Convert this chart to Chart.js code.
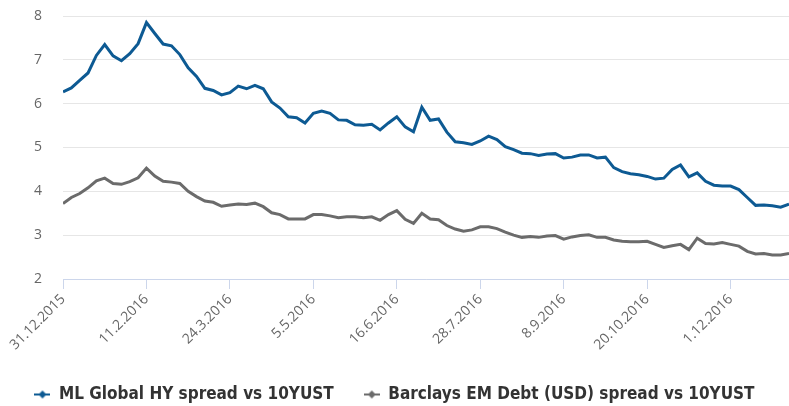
<!DOCTYPE html>
<html>
<head>
<meta charset="utf-8">
<script src="https://cdn.jsdelivr.net/npm/chart.js@4"></script>
<style>
  html, body { margin: 0; padding: 0; background: #fff; }
  #wrap { width: 789px; height: 406px; position: relative; }
</style>
</head>
<body>
<div id="wrap"><canvas id="chart"></canvas></div>
<script>
// tick labels every 30 business days (10 points apart)
const tickLabels = ["31.12.2015", "11.2.2016", "24.3.2016", "5.5.2016", "16.6.2016",
  "28.7.2016", "8.9.2016", "20.10.2016", "1.12.2016"];

const seriesNames = ["ML Global HY spread vs 10YUST", "Barclays EM Debt (USD) spread vs 10YUST"];

const hySpread = [
  6.27, 6.36, 6.53, 6.70, 7.10, 7.35, 7.09, 6.98, 7.14, 7.37,
  7.85, 7.60, 7.36, 7.32, 7.12, 6.82, 6.62, 6.35, 6.30, 6.20,
  6.25, 6.40, 6.34, 6.42, 6.34, 6.04, 5.90, 5.70, 5.68, 5.56,
  5.78, 5.83, 5.78, 5.63, 5.62, 5.52, 5.51, 5.53, 5.40, 5.56,
  5.70, 5.47, 5.36, 5.92, 5.62, 5.65, 5.35, 5.13, 5.11, 5.07,
  5.15, 5.26, 5.18, 5.02, 4.95, 4.87, 4.86, 4.82, 4.85, 4.86,
  4.76, 4.78, 4.83, 4.83, 4.76, 4.78, 4.54, 4.45, 4.40, 4.38,
  4.34, 4.28, 4.30, 4.50, 4.60, 4.33, 4.42, 4.23, 4.14, 4.12,
  4.12, 4.04, 3.86, 3.68, 3.69, 3.67, 3.64, 3.71
];

const emSpread = [
  3.72, 3.86, 3.95, 4.08, 4.24, 4.30, 4.18, 4.16, 4.22, 4.31,
  4.53, 4.35, 4.23, 4.21, 4.18, 4.00, 3.88, 3.78, 3.75, 3.66,
  3.69, 3.71, 3.70, 3.73, 3.65, 3.51, 3.47, 3.37, 3.37, 3.37,
  3.47, 3.47, 3.44, 3.40, 3.42, 3.42, 3.40, 3.42, 3.34, 3.47,
  3.56, 3.36, 3.27, 3.50, 3.37, 3.35, 3.22, 3.14, 3.09, 3.12,
  3.19, 3.19, 3.15, 3.07, 3.00, 2.95, 2.97, 2.95, 2.98, 2.99,
  2.91, 2.96, 2.99, 3.01, 2.95, 2.95, 2.89, 2.86, 2.85, 2.85,
  2.86, 2.79, 2.72, 2.76, 2.79, 2.67, 2.93, 2.81, 2.80, 2.83,
  2.79, 2.75, 2.63, 2.57, 2.58, 2.55, 2.55, 2.58
];

const colors = ["#0d5a93", "#6b6b6b"];

// legend symbol: short line with a diamond in the middle
function makeSymbol(color) {
  const c = document.createElement("canvas");
  c.width = 16;
  c.height = 10;
  const g = c.getContext("2d");
  g.strokeStyle = color;
  g.lineWidth = 2;
  g.beginPath();
  g.moveTo(0, 5);
  g.lineTo(16, 5);
  g.stroke();
  g.fillStyle = color;
  g.beginPath();
  g.moveTo(8, 1);
  g.lineTo(12, 5);
  g.lineTo(8, 9);
  g.lineTo(4, 5);
  g.closePath();
  g.fill();
  return c;
}

const symbols = colors.map(makeSymbol);

function toPoints(arr) {
  return arr.map((v, i) => ({ x: i, y: v }));
}

const ctx = document.getElementById("chart").getContext("2d");
new Chart(ctx, {
  type: "line",
  data: {
    datasets: [
      {
        label: seriesNames[0],
        data: toPoints(hySpread),
        borderColor: colors[0],
        backgroundColor: colors[0],
        borderWidth: 3,
        pointRadius: 0,
        tension: 0,
      },
      {
        label: seriesNames[1],
        data: toPoints(emSpread),
        borderColor: colors[1],
        backgroundColor: colors[1],
        borderWidth: 3,
        pointRadius: 0,
        tension: 0,
      },
    ],
  },
  options: {
    responsive: true,
    maintainAspectRatio: false,
    animation: false,
    layout: { padding: { left: 0, right: 0, top: 16, bottom: -7 } },
    scales: {
      x: {
        type: "linear",
        min: 0,
        max: hySpread.length - 1,
        grid: {
          drawOnChartArea: false,
          tickLength: 10,
          tickColor: "#ccd6eb",
        },
        border: { color: "#ccd6eb", width: 1 },
        ticks: {
          stepSize: 10,
          includeBounds: false,
          autoSkip: false,
          minRotation: 45,
          maxRotation: 45,
          padding: 2,
          color: "#666",
          font: { family: "'Open Sans'", size: 14 },
          callback: function (v) {
            const lbl = tickLabels[v / 10];
            return lbl === undefined ? null : lbl;
          },
        },
        afterFit: function (scale) {
          scale.height = 77;
        },
      },
      y: {
        min: 2,
        max: 8,
        // invisible tick marks push the labels away from the plot
        grid: { color: "#e6e6e6", lineWidth: 1, drawTicks: true, tickLength: 21, tickColor: "rgba(0,0,0,0)" },
        border: { display: false },
        ticks: {
          stepSize: 1,
          padding: 0,
          color: "#666",
          font: { family: "'Open Sans'", size: 14 },
        },
        afterFit: function (scale) {
          scale.width = 63;
        },
      },
    },
    plugins: {
      tooltip: { enabled: false },
      legend: {
        position: "bottom",
        labels: {
          usePointStyle: true,
          pointStyleWidth: 16,
          padding: 30,
          color: "#333",
          font: { family: "'DejaVu Sans Condensed'", size: 17, weight: "bold" },
          generateLabels: function (chart) {
            const items = Chart.defaults.plugins.legend.labels.generateLabels(chart);
            items.forEach((it, i) => {
              it.pointStyle = symbols[i];
            });
            return items;
          },
        },
      },
    },
  },
});
</script>
</body>
</html>
